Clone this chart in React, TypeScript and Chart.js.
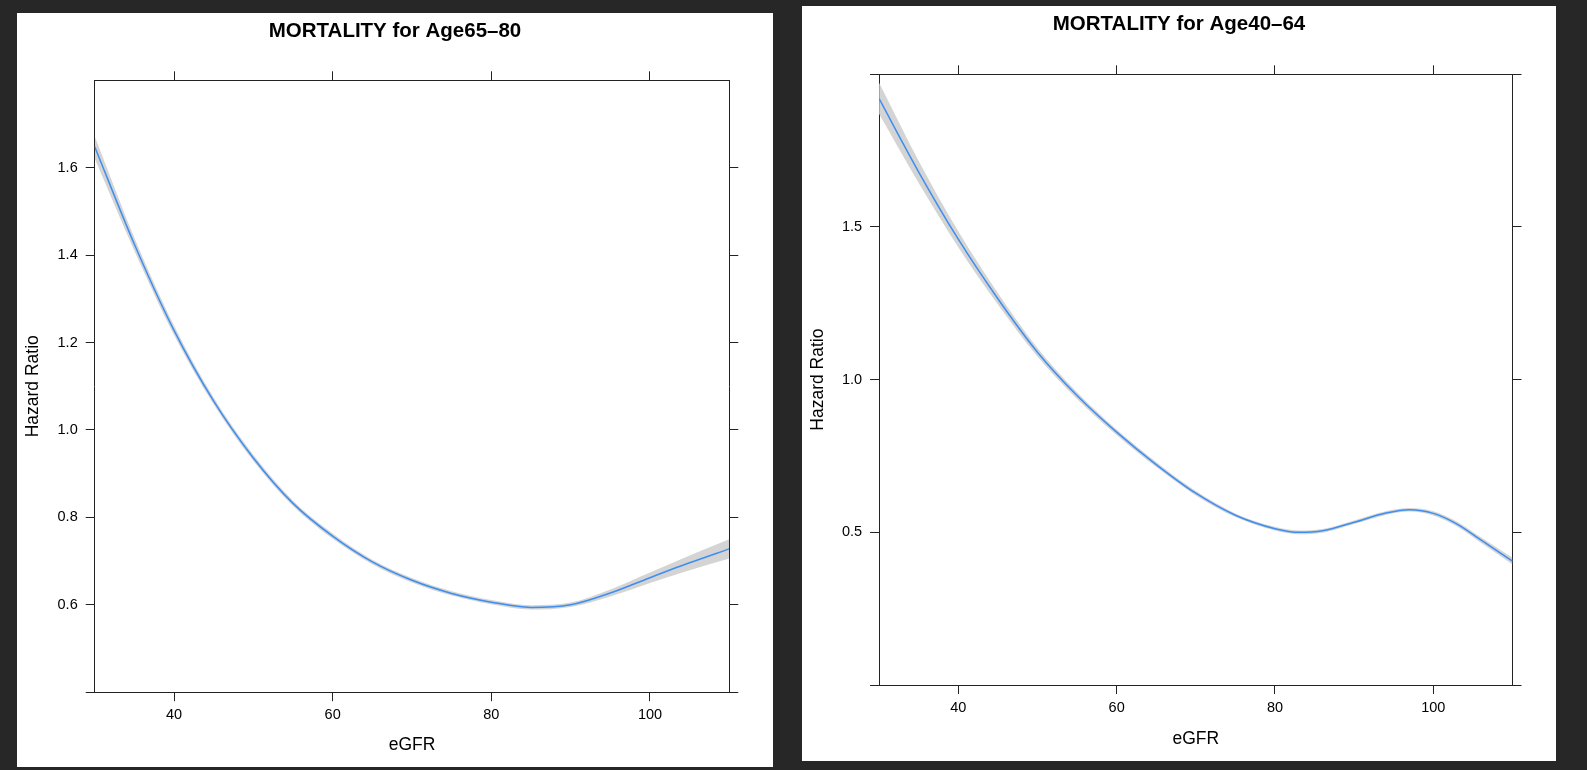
import React, { useEffect, useRef } from 'react';
import { Chart, registerables } from 'chart.js';

Chart.register(...registerables);

const FONT = "'Liberation Sans', Arial, Helvetica, sans-serif";
const BLUE = '#3c8ef0';
const BAND = '#d4d4d4';
const AXIS = '#222222';

// ---- Panel 1: MORTALITY for Age65-80 ----
const egfrOld = [30, 35, 40, 45, 50, 55, 60, 65, 70, 75, 80, 85, 90, 95, 100, 105, 110];
const hrOld = [1.648, 1.425, 1.228, 1.066, 0.936, 0.832, 0.757, 0.698, 0.656, 0.626, 0.606, 0.594, 0.6, 0.627, 0.662, 0.696, 0.728];
const hrOldUpper = [1.672, 1.44, 1.239, 1.074, 0.943, 0.838, 0.763, 0.703, 0.661, 0.631, 0.611, 0.599, 0.605, 0.635, 0.674, 0.713, 0.75];
const hrOldLower = [1.621, 1.41, 1.217, 1.058, 0.929, 0.826, 0.751, 0.693, 0.651, 0.621, 0.601, 0.589, 0.595, 0.619, 0.65, 0.679, 0.706];
const yTicksOld = [0.4, 0.6, 0.8, 1.0, 1.2, 1.4, 1.6];
const yLabelsOld = ['', '0.6', '0.8', '1.0', '1.2', '1.4', '1.6'];

// ---- Panel 2: MORTALITY for Age40-64 ----
const egfrYoung = [30, 35, 40, 45, 50, 55, 60, 65, 70, 75, 80, 83, 86, 90, 94, 97, 100, 103, 106, 110];
const hrYoung = [1.92, 1.68, 1.46, 1.265, 1.09, 0.948, 0.828, 0.722, 0.628, 0.556, 0.512, 0.5, 0.505, 0.533, 0.563, 0.574, 0.562, 0.527, 0.475, 0.406];
const hrYoungUpper = [1.972, 1.716, 1.486, 1.284, 1.104, 0.959, 0.837, 0.73, 0.635, 0.562, 0.518, 0.506, 0.511, 0.539, 0.569, 0.58, 0.569, 0.535, 0.484, 0.417];
const hrYoungLower = [1.87, 1.644, 1.434, 1.246, 1.076, 0.937, 0.819, 0.714, 0.621, 0.55, 0.506, 0.494, 0.499, 0.527, 0.557, 0.568, 0.555, 0.519, 0.466, 0.395];
const yTicksYoung = [0, 0.5, 1.0, 1.5, 2.0];
const yLabelsYoung = ['', '0.5', '1.0', '1.5', ''];

const xTicks = [40, 60, 80, 100];
const xLabels = ['40', '60', '80', '100'];

type PanelProps = {
  left: number; top: number; width: number; height: number;
  title: string;
  xs: number[]; ys: number[]; lo: number[]; hi: number[];
  yMin: number; yMax: number; yTickVals: number[]; yTickLabels: string[];
  leftW: number; rightW: number; topH: number; bottomH: number;
  titlePad: number; xTitlePad: number; yTitlePad: number;
};

function Panel(p: PanelProps) {
  const ref = useRef<HTMLCanvasElement | null>(null);
  useEffect(() => {
    if (!ref.current) return;
    const pts = (arr: number[]) => p.xs.map((x, i) => ({ x, y: arr[i] }));
    const gridOpts = { drawOnChartArea: false, drawTicks: true, tickLength: 9, color: AXIS, lineWidth: 1 };
    const borderOpts = { display: true, color: AXIS, width: 1 };
    const setX = (s: any) => { s.ticks = xTicks.map((v) => ({ value: v })); };
    const setY = (s: any) => { s.ticks = p.yTickVals.map((v) => ({ value: v })); };
    const chart = new Chart(ref.current, {
      type: 'line',
      data: {
        datasets: [
          { label: 'HR', data: pts(p.ys), borderColor: BLUE, borderWidth: 1.5, pointRadius: 0, fill: false, order: 0, cubicInterpolationMode: 'monotone' },
          { label: 'upper', data: pts(p.hi), borderColor: 'rgba(0,0,0,0)', borderWidth: 0, backgroundColor: BAND, pointRadius: 0, fill: '+1', order: 1, cubicInterpolationMode: 'monotone' },
          { label: 'lower', data: pts(p.lo), borderColor: 'rgba(0,0,0,0)', borderWidth: 0, pointRadius: 0, fill: false, order: 2, cubicInterpolationMode: 'monotone' },
        ],
      } as any,
      options: {
        animation: false,
        responsive: false,
        devicePixelRatio: 1,
        layout: { padding: 0 },
        plugins: {
          legend: { display: false },
          tooltip: { enabled: false },
          title: {
            display: true, text: p.title, color: '#000',
            font: { family: FONT, size: 20.5, weight: 'bold', lineHeight: 1.2 },
            padding: { top: p.titlePad, bottom: 0 },
          },
        },
        scales: {
          x: {
            type: 'linear', position: 'bottom', min: 30, max: 110,
            afterBuildTicks: setX,
            afterFit: (s: any) => { s.height = p.bottomH; },
            grid: gridOpts, border: borderOpts,
            ticks: {
              color: '#000', font: { family: FONT, size: 14.5 }, padding: 5, maxRotation: 0, autoSkip: false,
              callback: (v: any) => { const i = xTicks.indexOf(Number(v)); return i >= 0 ? xLabels[i] : ''; },
            },
            title: { display: true, text: 'eGFR', color: '#000', font: { family: FONT, size: 17.5, lineHeight: 1.2 }, padding: { top: 0, bottom: p.xTitlePad } },
          },
          x2: {
            type: 'linear', position: 'top', min: 30, max: 110,
            afterBuildTicks: setX,
            afterFit: (s: any) => { s.height = p.topH; },
            grid: gridOpts, border: borderOpts,
            ticks: { display: false },
          },
          y: {
            type: 'linear', position: 'left', min: p.yMin, max: p.yMax,
            afterBuildTicks: setY,
            afterFit: (s: any) => { s.width = p.leftW; },
            grid: gridOpts, border: borderOpts,
            ticks: {
              color: '#000', font: { family: FONT, size: 14.5 }, padding: 8, autoSkip: false,
              callback: (v: any) => {
                const i = p.yTickVals.findIndex((t) => Math.abs(t - Number(v)) < 1e-9);
                return i >= 0 ? p.yTickLabels[i] : '';
              },
            },
            title: { display: true, text: 'Hazard Ratio', color: '#000', font: { family: FONT, size: 17.5, lineHeight: 1.2 }, padding: { top: p.yTitlePad, bottom: 0 } },
          },
          y2: {
            type: 'linear', position: 'right', min: p.yMin, max: p.yMax,
            afterBuildTicks: setY,
            afterFit: (s: any) => { s.width = p.rightW; },
            grid: gridOpts, border: borderOpts,
            ticks: { display: false },
          },
        },
      } as any,
    });
    return () => chart.destroy();
  }, []);
  return (
    <canvas
      ref={ref}
      width={p.width}
      height={p.height}
      style={{ position: 'absolute', left: p.left, top: p.top, width: p.width, height: p.height, background: '#ffffff' }}
    />
  );
}

export default function App() {
  return (
    <div style={{ position: 'fixed', left: 0, top: 0, width: 1587, height: 770, background: '#272727', overflow: 'hidden' }}>
      <Panel
        left={17} top={13} width={756} height={754}
        title="MORTALITY for Age65–80"
        xs={egfrOld} ys={hrOld} lo={hrOldLower} hi={hrOldUpper}
        yMin={0.4} yMax={1.8} yTickVals={yTicksOld} yTickLabels={yLabelsOld}
        leftW={77.7} rightW={43.7} topH={36.6} bottomH={74.8}
        titlePad={6.1} xTitlePad={11} yTitlePad={5.8}
      />
      <Panel
        left={802} top={6} width={754} height={755}
        title="MORTALITY for Age40–64"
        xs={egfrYoung} ys={hrYoung} lo={hrYoungLower} hi={hrYoungUpper}
        yMin={0} yMax={2} yTickVals={yTicksYoung} yTickLabels={yLabelsYoung}
        leftW={77.1} rightW={43.5} topH={37.3} bottomH={76}
        titlePad={6.4} xTitlePad={11.7} yTitlePad={5.5}
      />
    </div>
  );
}
